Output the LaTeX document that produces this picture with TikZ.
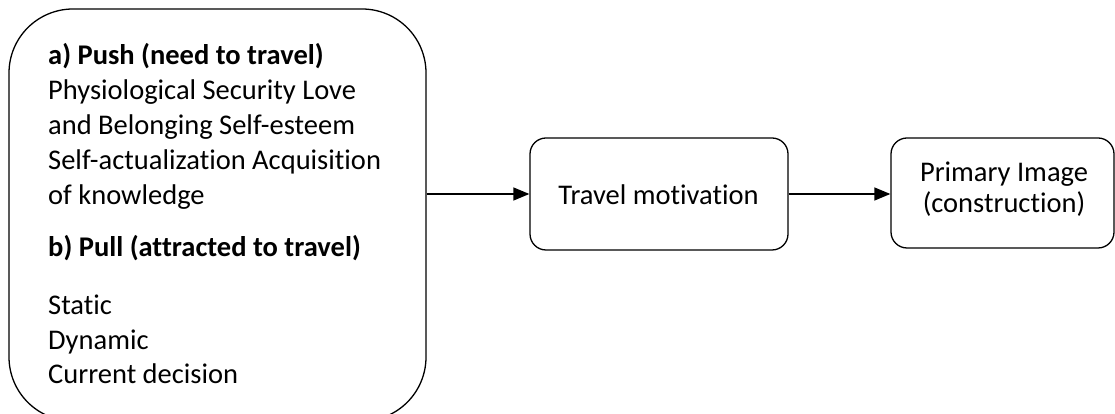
\documentclass[tikz,border=0pt]{standalone}
\usepackage{fontspec}
\setmainfont{Carlito}[Ligatures=NoCommon]
\usetikzlibrary{arrows.meta}
\begin{document}
\begin{tikzpicture}[x=1pt,y=1pt,
  box/.style={draw=black,line width=1.3pt,rounded corners=#1},
  txt/.style={anchor=base west,inner sep=0pt,font=\fontsize{28.5}{34}\selectfont},
  btxt/.style={txt,font=\fontsize{28.5}{34}\selectfont\bfseries},
  ctxt/.style={anchor=base,inner sep=0pt,font=\fontsize{28.5}{34}\selectfont},
  arr/.style={line width=1.3pt,-{Triangle[length=16pt,width=13pt]}}]
\useasboundingbox (0,0) rectangle (1115,414);
\begin{scope}
\clip (0,0) rectangle (1115,414);
% big box (its bottom edge runs off the picture)
\node[box=64pt,minimum width=417pt,minimum height=412pt,inner sep=0pt] (push) at (217.5,199) {};
\end{scope}
% text lines (baselines from top)
\node[btxt] (l1) at (48,414-65) {a) Push (need to travel)};
\node[txt] (l2) at (48,414-100) {Physiological Security Love};
\node[txt] (l3) at (48,414-135) {and Belonging Self-esteem};
\node[txt] (l4) at (48,414-170) {Self-actualization Acquisition};
\node[txt] (l5) at (48,414-205) {of knowledge};
\node[btxt] (l6) at (48,414-257) {b) Pull (attracted to travel)};
\node[txt] (l7) at (48,414-315) {Static};
\node[txt] (l8) at (48,414-350) {Dynamic};
\node[txt] (l9) at (48,414-384) {Current decision};
% travel motivation
\node[box=16pt,minimum width=258pt,minimum height=112pt,inner sep=0pt] (tm) at (659,414-194) {};
\node[ctxt] (tmt) at (658.5,414-205) {Travel motivation};
% primary image
\node[box=16pt,minimum width=223pt,minimum height=110pt,inner sep=0pt] (pi) at (1002.5,414-193) {};
\node[ctxt] (pit1) at (1004,414-182) {Primary Image};
\node[ctxt] (pit2) at (1004,414-213) {(construction)};
% arrows
\draw[arr] (push.east |- tm.west) -- (tm.west);
\draw[arr] (tm.east) -- (tm.east -| pi.west);
\end{tikzpicture}
\end{document}
